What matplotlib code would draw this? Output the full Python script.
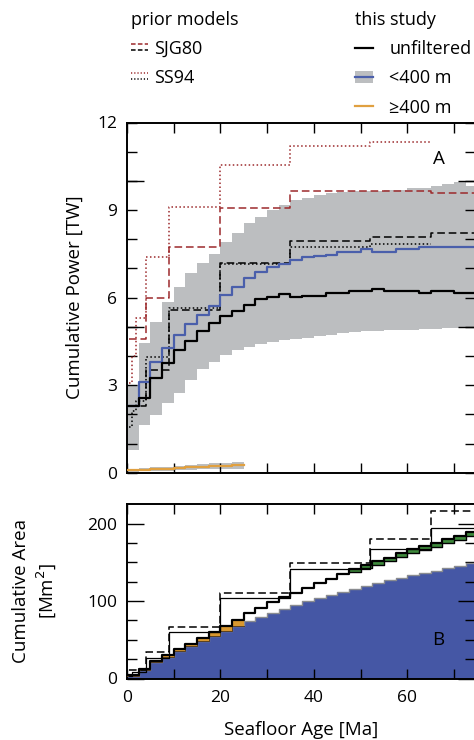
import matplotlib
matplotlib.use("Agg")
import matplotlib.pyplot as plt
import numpy as np
from matplotlib.lines import Line2D
from matplotlib.patches import Patch
from matplotlib.legend_handler import HandlerBase
from matplotlib.ticker import FixedLocator, FixedFormatter, MultipleLocator

plt.rcParams['font.family'] = ['Open Sans', 'DejaVu Sans']
plt.rcParams['font.size'] = 12

# ---------------- data ----------------
bin_width = 2.5
age_left = np.arange(0, 75, bin_width)          # 2.5 Ma bins, 0 .. 75 Ma

# Panel A: cumulative power [TW]
power_unfiltered = [2.30, 2.55, 3.24, 3.75, 4.20, 4.52, 4.85, 5.12, 5.36, 5.55,
                    5.75, 5.94, 6.03, 6.14, 6.03, 6.06, 6.06, 6.16, 6.16, 6.22,
                    6.22, 6.29, 6.22, 6.22, 6.22, 6.16, 6.22, 6.22, 6.16, 6.16]
power_lt400 = [2.27, 3.10, 3.79, 4.27, 4.73, 5.10, 5.40, 5.72, 6.09, 6.37,
               6.66, 6.88, 7.05, 7.15, 7.28, 7.40, 7.42, 7.47, 7.57, 7.57,
               7.65, 7.57, 7.57, 7.65, 7.65, 7.72, 7.72, 7.72, 7.72, 7.72]
power_lt400_upper = [3.00, 4.45, 5.17, 5.86, 6.37, 6.83, 7.17, 7.51, 7.91, 8.22,
                     8.54, 8.77, 9.00, 9.17, 9.34, 9.43, 9.51, 9.57, 9.62, 9.64,
                     9.64, 9.64, 9.68, 9.68, 9.74, 9.77, 9.82, 9.89, 9.97, 9.82]
power_lt400_lower = [0.78, 1.63, 1.98, 2.38, 2.72, 3.17, 3.54, 3.80, 4.03, 4.20,
                     4.30, 4.40, 4.47, 4.53, 4.57, 4.60, 4.70, 4.72, 4.80, 4.83,
                     4.85, 4.87, 4.89, 4.89, 4.88, 4.92, 4.92, 4.96, 4.97, 5.00]
power_ge400 = [0.08, 0.10, 0.12, 0.14, 0.16, 0.18, 0.20, 0.22, 0.23, 0.25]
power_ge400_upper = [0.12, 0.15, 0.18, 0.21, 0.24, 0.27, 0.30, 0.32, 0.34, 0.36]
power_ge400_lower = [0.04, 0.05, 0.06, 0.07, 0.08, 0.10, 0.11, 0.12, 0.13, 0.14]

# prior models (panel A)
sjg80_edges = [0.5, 4, 9, 20, 35, 52, 65, 80]
sjg80_power_hi = [4.57, 5.97, 7.74, 9.06, 9.65, 9.65, 9.57]
sjg80_power_lo = [2.30, 3.52, 5.57, 7.19, 7.93, 8.06, 8.20]
ss94_edges = [0.5, 1, 2, 4, 9, 20, 35, 52, 65]
ss94_power_hi = [3.06, 4.00, 5.30, 7.40, 9.09, 10.54, 11.19, 11.34]
ss94_power_lo = [1.58, 2.10, 2.45, 3.97, 5.63, 7.15, 7.72, 7.84]

# Panel B: cumulative area [Mm^2]
area_unfiltered = [4.0, 12.5, 23.0, 30.0, 37.5, 45.0, 52.5, 60.0, 67.5, 75.5,
                   84.1, 91.4, 98.3, 104.8, 110.7, 117.0, 123.0, 129.0, 135.0, 141.0,
                   146.0, 151.0, 156.0, 161.5, 166.7, 171.0, 175.2, 179.6, 184.3, 189.4]
area_lt400 = [3.2, 11.5, 21.7, 28.3, 35.1, 41.8, 48.5, 55.2, 61.7, 68.3,
              74.5, 80.0, 85.0, 90.0, 95.0, 99.5, 103.5, 107.5, 111.5, 115.5,
              119.5, 123.0, 126.5, 130.0, 133.0, 136.0, 139.0, 142.0, 145.5, 148.6]
area_ge400 = [0.8, 1.0, 1.3, 1.7, 2.4, 3.2, 4.0, 4.8, 5.8, 7.2]
green_start = 47.5
area_green = [3.0, 3.5, 4.0, 4.0, 4.5, 4.5, 5.0, 5.0, 5.0, 5.5, 5.5]
sjg80_area_edges = [0.5, 4, 9, 20, 35, 52, 65, 80]
sjg80_area = [11.0, 34.6, 66.9, 110.7, 148.6, 179.6, 216.5]
ss94_area_edges = [0.5, 1, 4, 9, 20, 35, 52, 65, 80]
ss94_area = [3.0, 8.0, 26.4, 60.4, 103.5, 141.3, 167.0, 193.8]

# ---------------- styles ----------------
C_GRAY = '#bcbec0'
C_BLUE = '#4a5fab'
C_BLUE_FILL = '#4557a5'
C_ORANGE = '#e0a040'
C_ORANGE_FILL = '#d8972f'
C_GREEN = '#3e8a3c'
C_RED = '#9c2a2c'
DASH = (0, (5, 2.5))
DOT = (0, (1, 1.6))
FS_LAB = 13.5
FS_LEG = 13


def step_xy(left, vals, width):
    left = np.asarray(left, float)
    x = np.append(left, left[-1] + width)
    y = np.append(vals, vals[-1])
    return x, y


def edge_xy(edges, vals):
    return np.asarray(edges, float), np.append(vals, vals[-1])


W, H = 474, 740
fig = plt.figure(figsize=(W / 100, H / 100), dpi=100)
x_left = 127 / W
x_right = 475 / W
axA = fig.add_axes([x_left, 1 - 472.7 / H, x_right - x_left, (472.7 - 122.5) / H])
axB = fig.add_axes([x_left, 1 - 678.5 / H, x_right - x_left, (678.5 - 504.3) / H])

# ---------------- panel A ----------------
x, lo = step_xy(age_left, power_lt400_lower, bin_width)
_, hi = step_xy(age_left, power_lt400_upper, bin_width)
axA.fill_between(x, lo, hi, step='post', color=C_GRAY, lw=0, zorder=1)

nge = len(power_ge400)
x, lo = step_xy(age_left[:nge], power_ge400_lower, bin_width)
_, hi = step_xy(age_left[:nge], power_ge400_upper, bin_width)
axA.fill_between(x, lo, hi, step='post', color=C_GRAY, lw=0, zorder=1)
x, y = step_xy(age_left[:nge], power_ge400, bin_width)
axA.step(x, y, where='post', color=C_ORANGE, lw=1.6, zorder=3)

x, y = edge_xy(sjg80_edges, sjg80_power_hi)
axA.step(x, y, where='post', color=C_RED, lw=1.1, ls=DASH, zorder=2)
x, y = edge_xy(ss94_edges, ss94_power_hi)
axA.step(x, y, where='post', color=C_RED, lw=1.1, ls=DOT, zorder=2)
x, y = edge_xy(sjg80_edges, sjg80_power_lo)
axA.step(x, y, where='post', color='black', lw=1.1, ls=DASH, zorder=2)
x, y = edge_xy(ss94_edges, ss94_power_lo)
axA.step(x, y, where='post', color='black', lw=1.1, ls=DOT, zorder=2)

x, y = step_xy(age_left, power_lt400, bin_width)
axA.step(x, y, where='post', color=C_BLUE, lw=1.6, zorder=4)
x, y = step_xy(age_left, power_unfiltered, bin_width)
axA.step(x, y, where='post', color='black', lw=1.6, zorder=5)

axA.set_xlim(0, 74.5)
axA.set_ylim(0, 12)
axA.set_ylabel('Cumulative Power [TW]', fontsize=FS_LAB)
axA.text(0.897, 0.896, 'A', transform=axA.transAxes, ha='center', va='center', fontsize=13.5)

# ---------------- panel B ----------------
x, y = step_xy(age_left, area_lt400, bin_width)
axB.fill_between(x, 0, y, step='post', color=C_BLUE_FILL, lw=0, zorder=1)
axB.step(x, y, where='post', color='#8a8c90', lw=1.0, zorder=2)

base = np.asarray(area_lt400[:nge])
x, lo = step_xy(age_left[:nge], base, bin_width)
_, hi = step_xy(age_left[:nge], base + np.asarray(area_ge400), bin_width)
axB.fill_between(x, lo, hi, step='post', color=C_ORANGE_FILL, lw=0, zorder=2)
axB.step(x, lo, where='post', color='#5a4020', lw=0.7, zorder=3)

gi = int(np.where(age_left == green_start)[0][0])
top_g = np.asarray(area_unfiltered[gi:])
x, hi = step_xy(age_left[gi:], top_g, bin_width)
_, lo = step_xy(age_left[gi:], top_g - np.asarray(area_green), bin_width)
axB.fill_between(x, lo, hi, step='post', color=C_GREEN, lw=0, zorder=2)
axB.step(x, lo, where='post', color='black', lw=1.0, zorder=3)

x, y = edge_xy(ss94_area_edges, ss94_area)
axB.step(x, y, where='post', color='black', lw=0.9, zorder=3)
x, y = edge_xy(sjg80_area_edges, sjg80_area)
axB.step(x, y, where='post', color='black', lw=1.1, ls=DASH, zorder=3)

x, y = step_xy(age_left, area_unfiltered, bin_width)
axB.step(x, y, where='post', color='black', lw=1.6, zorder=4)

axB.set_xlim(0, 74.5)
axB.set_ylim(0, 224.8)
axB.set_ylabel('Cumulative Area\n[Mm$^2$]', fontsize=FS_LAB, linespacing=1.25)
axB.set_xlabel('Seafloor Age [Ma]', fontsize=FS_LAB, labelpad=11)
axB.text(0.894, 0.221, 'B', transform=axB.transAxes, ha='center', va='center', fontsize=13.5)

# ---------------- ticks ----------------
for ax in (axA, axB):
    ax.xaxis.set_major_locator(MultipleLocator(20))
    ax.xaxis.set_minor_locator(MultipleLocator(10))
    ax.tick_params(which='both', direction='in', top=True, right=True, width=1.0,
                   labelsize=12.5)
    ax.tick_params(axis='x', which='both', length=7, pad=8)
    for s in ax.spines.values():
        s.set_linewidth(1.4)
axA.tick_params(axis='x', labelbottom=False)

axA.yaxis.set_major_locator(FixedLocator(list(range(0, 13))))
axA.yaxis.set_major_formatter(FixedFormatter([str(v) if v % 3 == 0 else '' for v in range(13)]))
axA.yaxis.set_minor_locator(FixedLocator([5, 10]))
axA.yaxis.remove_overlapping_locs = False
axA.tick_params(axis='y', which='major', length=7, pad=7)
axA.tick_params(axis='y', which='minor', length=12)

axB.yaxis.set_major_locator(FixedLocator([0, 100, 200]))
axB.yaxis.set_minor_locator(MultipleLocator(25))
axB.tick_params(axis='y', which='major', length=12, pad=7)
axB.tick_params(axis='y', which='minor', length=7)

# y label positions
axA.yaxis.set_label_coords(-0.125, 0.5)
axB.yaxis.set_label_coords(-0.197, 0.5)


# ---------------- legends ----------------
class LinePair:
    def __init__(self, color_top, color_bottom, dashes, lw):
        self.colors = (color_top, color_bottom)
        self.dashes = dashes
        self.lw = lw


class StackedLines(HandlerBase):
    def create_artists(self, legend, orig_handle, xdescent, ydescent, width, height,
                       fontsize, trans):
        arts = []
        for c, f in zip(orig_handle.colors, (0.8, 0.35)):
            yy = height * f - ydescent
            ln = Line2D([-xdescent, -xdescent + width], [yy, yy], color=c,
                        linestyle=orig_handle.dashes, linewidth=orig_handle.lw)
            ln.set_transform(trans)
            arts.append(ln)
        return arts


h_sjg = LinePair(C_RED, 'black', (0, (3, 1.5)), 1.1)
h_ss = LinePair(C_RED, 'black', (0, (0.8, 1.3)), 1.1)
leg1 = fig.legend([h_sjg, h_ss], ['SJG80', 'SS94'], title='prior models',
                  handler_map={LinePair: StackedLines()},
                  loc='upper left', bbox_to_anchor=(131 / W, 1 - 11 / H),
                  frameon=False, fontsize=FS_LEG, title_fontsize=FS_LEG, alignment='left',
                  handlelength=0.95, handletextpad=0.35, labelspacing=0.62,
                  borderpad=0, borderaxespad=0)

h_unf = Line2D([], [], color='black', lw=1.6)
h_lt = (Patch(facecolor=C_GRAY, edgecolor='none'), Line2D([], [], color=C_BLUE, lw=1.6))
h_ge = Line2D([], [], color=C_ORANGE, lw=1.6)
leg2 = fig.legend([h_unf, h_lt, h_ge], ['unfiltered', '<400 m', '\u2265400 m'],
                  title='this study', loc='upper left',
                  bbox_to_anchor=(355 / W, 1 - 11 / H),
                  frameon=False, fontsize=FS_LEG, title_fontsize=FS_LEG, alignment='left',
                  handlelength=1.0, handletextpad=0.9, labelspacing=0.62,
                  borderpad=0, borderaxespad=0)

fig.savefig('out.png', dpi=100)
